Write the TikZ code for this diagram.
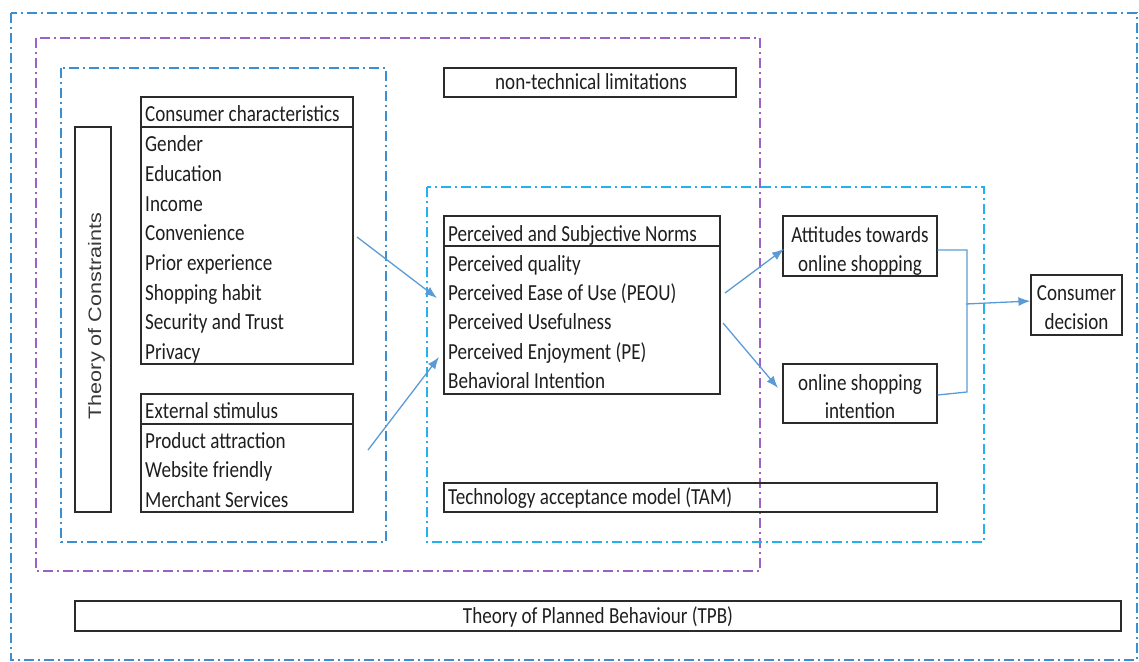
\documentclass[tikz,border=0pt]{standalone}
\usepackage{fontspec}
\setmainfont[FakeStretch=0.83]{Carlito}
\newfontfamily\tocfont[FakeStretch=1.2]{Liberation Sans}
\usetikzlibrary{arrows.meta}
\definecolor{outerblue}{HTML}{3A8FD2}
\definecolor{tamblue}{HTML}{22B2EE}
\definecolor{regpurple}{HTML}{9A62C6}
\definecolor{arrblue}{HTML}{5B9BD5}
\definecolor{boxline}{HTML}{2B2B2B}
\definecolor{txt}{HTML}{1E1E1E}
\begin{document}
\begin{tikzpicture}[x=1pt,y=-1pt,
  region/.style={line width=1.1pt, dash pattern=on 10pt off 4pt on 2pt off 4pt},
  box/.style={draw=boxline, line width=1.2pt, inner sep=0pt, fill=none},
  lbl/.style={anchor=base west, inner sep=0pt, text=txt, font=\fontsize{23}{26}\selectfont},
  clbl/.style={anchor=base, inner sep=0pt, text=txt, font=\fontsize{23}{26}\selectfont},
  conn/.style={draw=arrblue, line width=1.3pt},
  arr/.style={conn, -{Latex[length=12pt,width=9pt]}}
]
\useasboundingbox (0,0) rectangle (1139,661);

% regions
\draw[region, outerblue] (11,13) rectangle (1137,660);
\draw[region, regpurple] (36,38) rectangle (760,571);
\draw[region, outerblue] (61,68) rectangle (386,542);
\draw[region, tamblue] (427,187) rectangle (984,542);

% boxes
\node[box, minimum width=36pt, minimum height=385pt] (toc) at (93,319.5) {};
\node[box, minimum width=212pt, minimum height=267pt] (cc) at (247,230.5) {};
\node[box, minimum width=212pt, minimum height=118pt] (es) at (247,453) {};
\node[box, minimum width=292pt, minimum height=29pt] (ntl) at (590,82.5) {};
\node[box, minimum width=276pt, minimum height=178pt] (pn) at (582,305) {};
\node[box, minimum width=154pt, minimum height=60pt] (att) at (860,246) {};
\node[box, minimum width=154pt, minimum height=59pt] (osi) at (860,393.5) {};
\node[box, minimum width=91pt, minimum height=60pt] (cd) at (1076.5,305) {};
\node[box, minimum width=493pt, minimum height=29pt] (tam) at (690.5,497.5) {};
\node[box, minimum width=1046pt, minimum height=30pt] (tpb) at (598,616) {};

% header dividers
\draw[boxline, line width=1.2pt] (cc.west |- 0,127) -- (cc.east |- 0,127);
\draw[boxline, line width=1.2pt] (es.west |- 0,424) -- (es.east |- 0,424);
\draw[boxline, line width=1.2pt] (pn.west |- 0,246) -- (pn.east |- 0,246);

% texts
\node[text=black!78, inner sep=0pt, rotate=90, font=\tocfont\fontsize{18}{20}\selectfont] (toct) at (96.5,316) {Theory of Constraints};

\node[lbl] (cc0) at (145,121) {Consumer characteristics};
\node[lbl] (cc1) at (145,151) {Gender};
\node[lbl] (cc2) at (145,181) {Education};
\node[lbl] (cc3) at (145,211) {Income};
\node[lbl] (cc4) at (145,240) {Convenience};
\node[lbl] (cc5) at (145,270) {Prior experience};
\node[lbl] (cc6) at (145,300) {Shopping habit};
\node[lbl] (cc7) at (145,329) {Security and Trust};
\node[lbl] (cc8) at (145,359) {Privacy};

\node[lbl] (es0) at (145,418) {External stimulus};
\node[lbl] (es1) at (145,448) {Product attraction};
\node[lbl] (es2) at (145,477) {Website friendly};
\node[lbl] (es3) at (145,507) {Merchant Services};

\node[clbl] (ntlt) at (591,89) {non-technical limitations};

\node[lbl] (pn0) at (448,241) {Perceived and Subjective Norms};
\node[lbl] (pn1) at (448,271) {Perceived quality};
\node[lbl] (pn2) at (448,300) {Perceived Ease of Use (PEOU)};
\node[lbl] (pn3) at (448,329) {Perceived Usefulness};
\node[lbl] (pn4) at (448,359) {Perceived Enjoyment (PE)};
\node[lbl] (pn5) at (448,388) {Behavioral Intention};

\node[clbl] (att1) at (860,242) {Attitudes towards};
\node[clbl] (att2) at (860,271) {online shopping};
\node[clbl] (osi1) at (860,390) {online shopping};
\node[clbl] (osi2) at (860,418) {intention};
\node[clbl] (cd1) at (1076.5,300) {Consumer};
\node[clbl] (cd2) at (1076.5,329) {decision};

\node[lbl] (tamt) at (448,504) {Technology acceptance model (TAM)};
\node[clbl] (tpbt) at (598,623) {Theory of Planned Behaviour (TPB)};

% connector coordinates
\coordinate (a1s) at (357,237);
\coordinate (a1e) at (437,298);
\coordinate (a2s) at (368,450);
\coordinate (a2e) at (439,357);
\coordinate (a3s) at (725,293);
\coordinate (a3e) at (784,249);
\coordinate (a4s) at (723,323);
\coordinate (a4e) at (778,388);
\coordinate (br1) at (967,250);
\coordinate (br2) at (967,392);
\coordinate (brm) at (966,304);

\draw[arr] (a1s) -- (a1e);
\draw[arr] (a2s) -- (a2e);
\draw[arr] (a3s) -- (a3e);
\draw[arr] (a4s) -- (a4e);
\draw[conn] (att.east |- br1) -- (br1) -- (br2) -- (osi.east |- 0,395);
\draw[arr] (brm) -- (cd.west |- 0,301);
\end{tikzpicture}
\end{document}
